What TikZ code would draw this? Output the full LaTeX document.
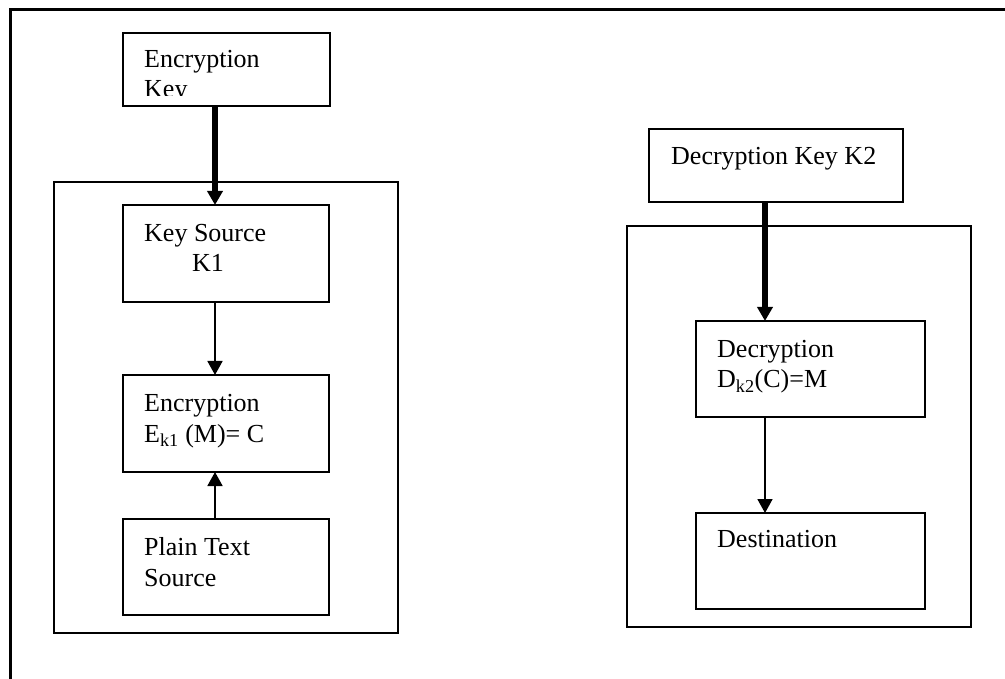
\documentclass[tikz,border=0pt]{standalone}
\usepackage{fontspec}
\setmainfont{Liberation Serif}
\usetikzlibrary{arrows.meta,fit}

\tikzset{
  frame/.style={draw, line width=3pt},
  group/.style={draw, line width=1.6pt, inner sep=0pt, outer sep=0pt},
  box/.style={draw, line width=1.6pt, inner sep=0pt, outer sep=0pt},
  txt/.style={anchor=base west, inner sep=0pt, font=\fontsize{26}{30}\selectfont},
  link/.style={line width=1.8pt, -{Triangle[width=15pt,length=14pt]}},
  keylink/.style={line width=5.5pt, -{Triangle[width=15pt,length=14pt]}},
}

\begin{document}
\begin{tikzpicture}[x=1pt,y=-1pt]
\useasboundingbox (0,0) rectangle (1005,679);
\clip (0,0) rectangle (1005,679);

% page frame (runs past the right and bottom edges)
\draw[frame] (10,10) rectangle (1030,700);

% sender side
\node[group, fit={(54,182) (398,633)}] (sender) {};
\node[box, fit={(123,33) (330,106)}] (enckey) {};
\node[box, fit={(123,205) (329,302)}] (keysrc) {};
\node[box, fit={(123,375) (329,472)}] (enc) {};
\node[box, fit={(123,519) (329,615)}] (plain) {};

\node[txt] (enckeyA) at (144,68) {Encryption};
\begin{scope}
  \clip (123,33) rectangle (330,96);
  \node[txt] (enckeyB) at (144,98) {Key};
\end{scope}
\node[txt] (keysrcA) at (144,242) {Key Source};
\node[txt] (keysrcB) at (192,272) {K1};
\node[txt] (encA) at (144,411) {Encryption};
\node[txt] (encB) at (144,442) {E\textsubscript{k1} (M)= C};
\node[txt] (plainA) at (144,555) {Plain Text};
\node[txt] (plainB) at (144,586) {Source};

\coordinate (lx) at (215,0);
\draw[keylink] (enckey.south -| lx) -- (keysrc.north -| lx);
\draw[link] (keysrc.south -| lx) -- (enc.north -| lx);
\draw[link] (plain.north -| lx) -- (enc.south -| lx);

% receiver side
\node[group, fit={(627,226) (971,627)}] (receiver) {};
\node[box, fit={(649,129) (903,202)}] (deckey) {};
\node[box, fit={(696,321) (925,417)}] (dec) {};
\node[box, fit={(696,513) (925,609)}] (dest) {};

\node[txt] (deckeyA) at (671,165) {Decryption Key K2};
\node[txt] (decA) at (717,357) {Decryption};
\node[txt] (decB) at (717,388) {D\textsubscript{k2}(C)=M};
\node[txt] (destA) at (717,547) {Destination};

\coordinate (rx) at (765,0);
\draw[keylink] (deckey.south -| rx) -- (dec.north -| rx);
\draw[link] (dec.south -| rx) -- (dest.north -| rx);
\end{tikzpicture}
\end{document}
